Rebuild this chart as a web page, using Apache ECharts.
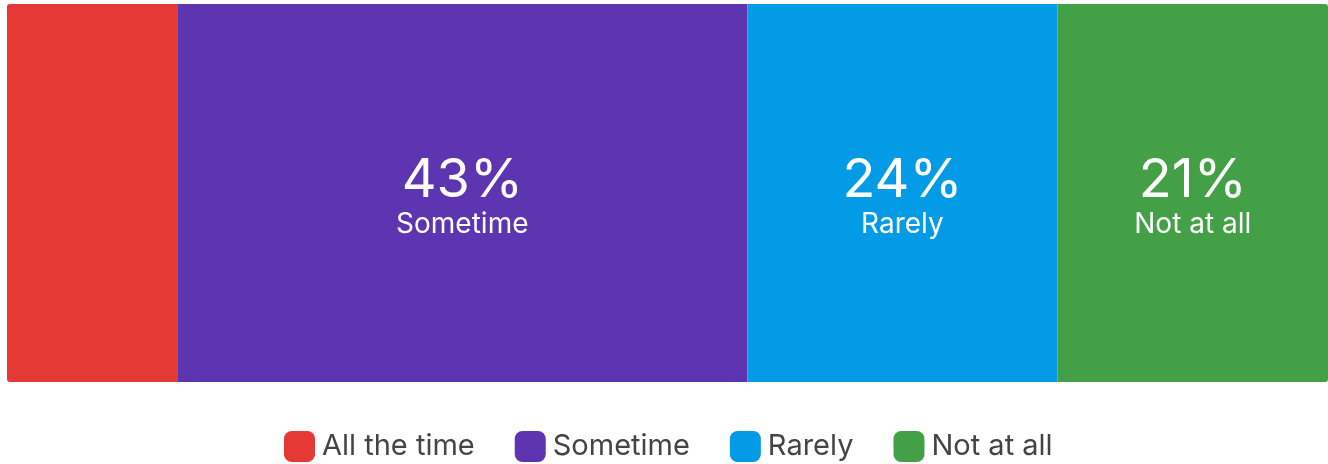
<!DOCTYPE html>
<html><head><meta charset="utf-8">
<script src="https://cdn.jsdelivr.net/npm/echarts@6/dist/echarts.min.js"></script>
<style>html,body{margin:0;padding:0;background:#fff}#c{width:1328px;height:464px}</style>
</head><body><div id="c"></div>
<script>
const categories = ['Response'];
const seriesNames = ['All the time', 'Sometime', 'Rarely', 'Not at all'];
const seriesValues = [12.9, 43.2, 23.5, 20.5];
const colors = ['#E53935', '#5E35B1', '#039BE5', '#43A047'];

const chart = echarts.init(document.getElementById('c'));
const total = seriesValues.reduce((a, b) => a + b, 0);
const series = seriesNames.map((name, i) => ({
  name: name,
  type: 'bar',
  stack: 'total',
  barWidth: '100%',
  data: [seriesValues[i]],
  itemStyle: {
    color: colors[i],
    borderRadius: i === 0 ? [3, 0, 0, 3] : (i === seriesNames.length - 1 ? [0, 3, 3, 0] : 0)
  },
  label: {
    show: seriesValues[i] >= 15,
    position: 'inside',
    offset: [0, 4],
    formatter: p => '{v|' + Math.round(p.value) + '%}\n{n|' + p.seriesName + '}',
    rich: {
      v: { fontFamily: 'Inter', fontSize: 54, color: '#fff', lineHeight: 56, align: 'center' },
      n: { fontFamily: 'Inter', fontSize: 28, color: '#fff', lineHeight: 32, align: 'center' }
    }
  },
  emphasis: { disabled: true }
}));

chart.setOption({
  animation: false,
  grid: { left: 7, right: 0, top: 4, bottom: 82, containLabel: false },
  xAxis: { type: 'value', min: 0, max: total, show: false },
  yAxis: { type: 'category', data: categories, show: false },
  legend: {
    data: seriesNames,
    bottom: 2,
    padding: 0,
    left: 284,
    itemWidth: 31,
    itemHeight: 31,
    itemGap: 40,
    icon: 'roundRect',
    textStyle: { fontFamily: 'Inter', fontSize: 29, color: '#444', padding: [0, 0, 0, 2] }
  },
  series: series
});
</script></body></html>
